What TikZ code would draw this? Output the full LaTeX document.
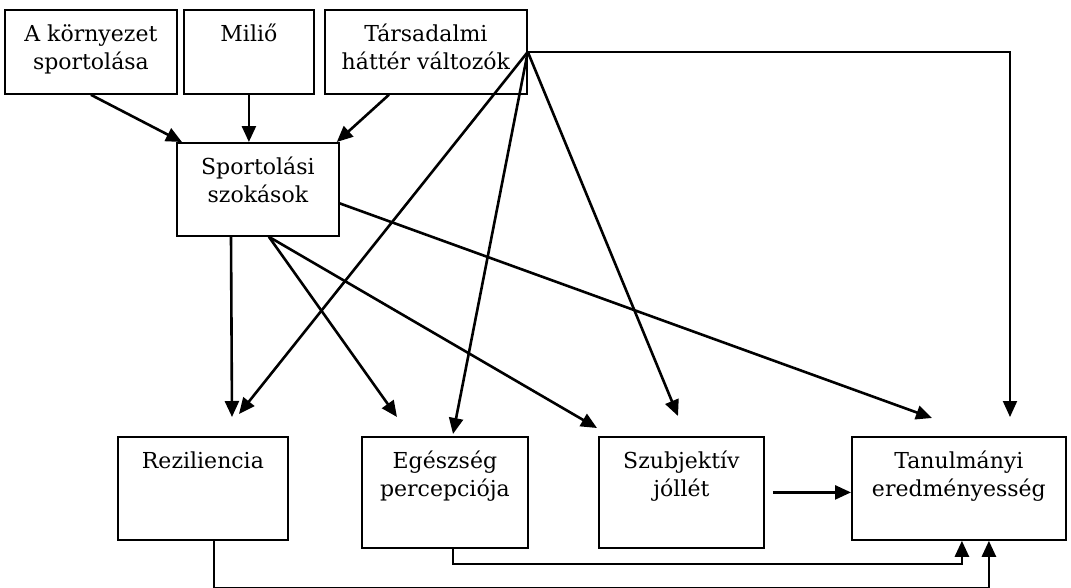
\documentclass[tikz,border=0pt]{standalone}
\usepackage{fontspec}
\setmainfont{DejaVu Serif}
\usetikzlibrary{arrows.meta,calc}

\newcommand{\boxtxt}[3]{\parbox[t][#2][t]{#1}{\centering\rule{0pt}{32pt}#3}}

\begin{document}
\begin{tikzpicture}[x=1pt,y=-1pt,
    box/.style={draw, line width=1.8pt, inner sep=0pt, anchor=north west, font=\fontsize{22}{27.5}\selectfont},
    link/.style={-{Triangle[length=16pt,width=14pt]}, line width=2.6pt}]
    \useasboundingbox (0,0) rectangle (1071,587);
    % top row
    \node[box] (korny) at (4,9) {\boxtxt{172pt}{84pt}{A környezet\\sportolása}};
    \node[box] (milio) at (183,9) {\boxtxt{130pt}{84pt}{Miliő}};
    \node[box] (tars) at (324,9) {\boxtxt{202pt}{84pt}{Társadalmi\\háttér változók}};
    \node[box] (sport) at (176,142) {\boxtxt{162pt}{93pt}{Sportolási\\szokások}};
    % bottom row
    \node[box] (rez) at (117,436) {\boxtxt{170pt}{103pt}{Reziliencia}};
    \node[box] (egesz) at (361,436) {\boxtxt{166pt}{111pt}{Egészség\\percepciója}};
    \node[box] (szub) at (598,436) {\boxtxt{165pt}{111pt}{Szubjektív\\jóllét}};
    \node[box] (tan) at (851,436) {\boxtxt{214pt}{103pt}{Tanulmányi\\eredményesség}};
    % arrow ends above the bottom boxes
    \coordinate (rezA) at (232,417);
    \coordinate (rezB) at (239,414);
    \coordinate (egA) at (397,417);
    \coordinate (egB) at (453,434);
    \coordinate (szA) at (597,428);
    \coordinate (szB) at (678,416);
    \coordinate (tanA) at (932,418);
    \coordinate (tanB) at (1010,417);
    % into Sportolási szokások
    \draw[link] (korny.south) -- ($(sport.north west)+(6,0)$);
    \draw[link] (milio.south) -- (milio.south |- sport.north);
    \draw[link] ($(tars.south)+(-37,0)$) -- ($(sport.north east)+(-3,0)$);
    % out of Sportolási szokások
    \draw[link] ($(sport.south west)+(55,0)$) -- (rezA);
    \draw[link] ($(sport.south)+(11,0)$) -- (egA);
    \draw[link] ($(sport.south)+(11,0)$) -- (szA);
    \draw[link] ($(sport.east)+(0,14)$) -- (tanA);
    % out of Társadalmi háttér változók
    \draw[link] (tars.east) -- (rezB);
    \draw[link] (tars.east) -- (egB);
    \draw[link] (tars.east) -- (szB);
    \draw[link, line width=2pt] (tars.east) -| (tanB);
    % into Tanulmányi eredményesség
    \draw[link] ($(szub.east)+(8,0)$) -- (szub.east -| tan.west);
    \draw[link] ($(egesz.south)+(8,0)$) -- ++(0,15) -| ($(tan.south)+(3,0)$);
    \draw[link] ($(rez.south)+(11,0)$) -- ++(0,47) -| ($(tan.south)+(30,0)$);
\end{tikzpicture}
\end{document}
